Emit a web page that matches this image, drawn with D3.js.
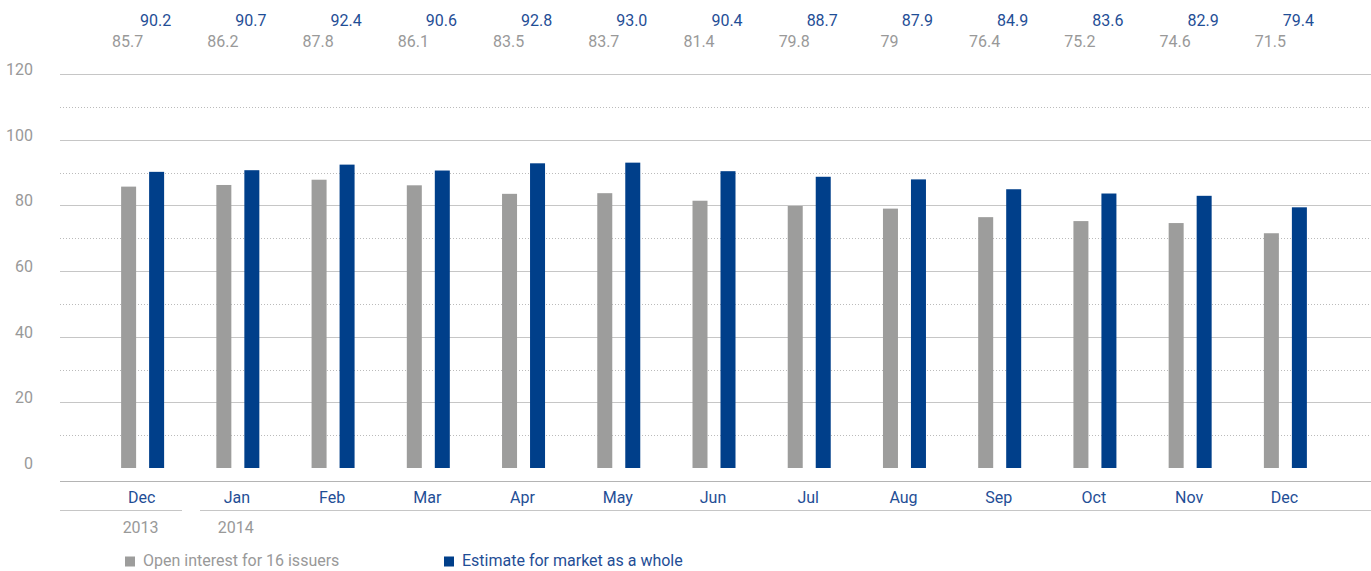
<!DOCTYPE html>
<html><head><meta charset="utf-8">
<script src="https://cdn.jsdelivr.net/npm/d3@7"></script>
<style>body{margin:0;background:#fff}svg{display:block}text{font-family:Roboto,sans-serif}</style>
</head><body><svg id="c" width="1371" height="571"></svg>
<script>
const months = ["Dec","Jan","Feb","Mar","Apr","May","Jun","Jul","Aug","Sep","Oct","Nov","Dec"];
const openInterest = [85.7,86.2,87.8,86.1,83.5,83.7,81.4,79.8,79,76.4,75.2,74.6,71.5];
const openLabels = ["85.7","86.2","87.8","86.1","83.5","83.7","81.4","79.8","79","76.4","75.2","74.6","71.5"];
const marketEstimate = [90.2,90.7,92.4,90.6,92.8,93.0,90.4,88.7,87.9,84.9,83.6,82.9,79.4];
const marketLabels = ["90.2","90.7","92.4","90.6","92.8","93.0","90.4","88.7","87.9","84.9","83.6","82.9","79.4"];
const yTicks = [0,20,40,60,80,100,120];
const yMinor = [10,30,50,70,90,110];
const years = [{label:"2013", from:0, to:0},{label:"2014", from:1, to:12}];
const seriesNames = ["Open interest for 16 issuers","Estimate for market as a whole"];

const GRAY="#9d9d9c", BLUE="#003f8a", TXTG="#999999", TXTB="#1f4e96", LINE="#c6c6c6";
const FS=16;
const svg=d3.select("#c");
const idx=months.map((m,i)=>i);
const x=d3.scaleBand().domain(idx).range([95,1333]);
const y=d3.scaleLinear().domain([0,120]).range([468,74]);
const L=60,R=1371;

svg.append("g").selectAll("line").data(yTicks.filter(d=>d>0)).join("line")
 .attr("x1",L).attr("x2",R).attr("y1",d=>Math.round(y(d))+0.5).attr("y2",d=>Math.round(y(d))+0.5)
 .attr("stroke",LINE).attr("stroke-width",1);
svg.append("g").selectAll("line").data(yMinor).join("line")
 .attr("x1",L).attr("x2",R).attr("y1",d=>Math.round(y(d))+0.5).attr("y2",d=>Math.round(y(d))+0.5)
 .attr("stroke","#bbbbbb").attr("stroke-width",1).attr("stroke-dasharray","1,2");
svg.append("g").selectAll("text").data(yTicks).join("text")
 .attr("x",33).attr("y",d=>y(d)+1).attr("text-anchor","end").attr("font-size",FS).attr("fill",TXTG).text(d=>d);

const bw=15;
svg.append("g").selectAll("rect").data(idx).join("rect")
 .attr("x",i=>x(i)+x.bandwidth()/2-21.5).attr("width",bw)
 .attr("y",i=>y(openInterest[i])).attr("height",i=>y(0)-y(openInterest[i])).attr("fill",GRAY);
svg.append("g").selectAll("rect").data(idx).join("rect")
 .attr("x",i=>x(i)+x.bandwidth()/2+6.5).attr("width",bw)
 .attr("y",i=>y(marketEstimate[i])).attr("height",i=>y(0)-y(marketEstimate[i])).attr("fill",BLUE);

svg.append("g").selectAll("text").data(idx).join("text")
 .attr("x",i=>x(i)+x.bandwidth()/2+13).attr("y",26).attr("text-anchor","middle")
 .attr("font-size",FS).attr("fill",TXTB).text(i=>marketLabels[i]);
svg.append("g").selectAll("text").data(idx).join("text")
 .attr("x",i=>x(i)+x.bandwidth()/2-15).attr("y",47).attr("text-anchor","middle")
 .attr("font-size",FS).attr("fill",TXTG).text(i=>openLabels[i]);

svg.append("line").attr("x1",L).attr("x2",R).attr("y1",481.5).attr("y2",481.5).attr("stroke","#b4b4b4");
svg.append("g").selectAll("text").data(idx).join("text")
 .attr("x",i=>x(i)+x.bandwidth()/2-1).attr("y",503).attr("text-anchor","middle")
 .attr("font-size",FS).attr("fill",TXTB).text(i=>months[i]);

const yearLines=[[L,182],[200,R]];
svg.append("g").selectAll("line").data(yearLines).join("line")
 .attr("x1",d=>d[0]).attr("x2",d=>d[1]).attr("y1",510.5).attr("y2",510.5).attr("stroke",LINE);
svg.append("g").selectAll("text").data(years).join("text")
 .attr("x",d=>x(d.from)+x.bandwidth()/2-2).attr("y",533).attr("text-anchor","middle")
 .attr("font-size",FS).attr("fill",TXTG).text(d=>d.label);

const leg=[{x:125,c:GRAY,t:seriesNames[0]},{x:444,c:BLUE,t:seriesNames[1]}];
const lg=svg.append("g").selectAll("g").data(leg).join("g");
lg.append("rect").attr("x",d=>d.x).attr("y",556.5).attr("width",10).attr("height",10).attr("fill",d=>d.c);
lg.append("text").attr("x",d=>d.x+18).attr("y",566).attr("font-size",FS)
 .attr("fill",d=>d.c===GRAY?TXTG:TXTB).text(d=>d.t);
</script></body></html>
